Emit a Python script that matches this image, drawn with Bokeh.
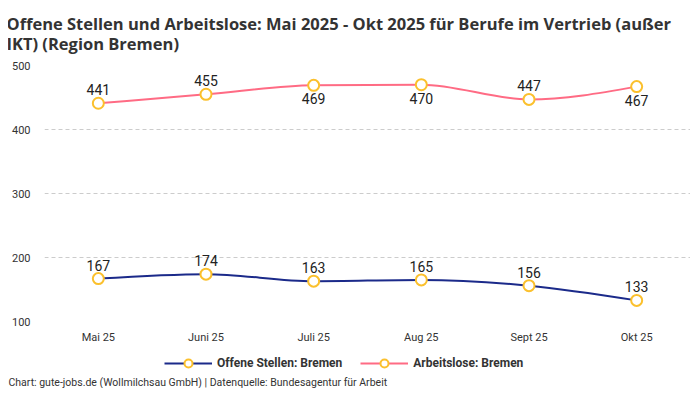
from bokeh.plotting import figure
from bokeh.layouts import column
from bokeh.models import (ColumnDataSource, FactorRange, Range1d, Legend, LegendItem,
                          Title, FixedTicker)
from bokeh.core.properties import value
from bokeh.embed import file_html
from bokeh.resources import INLINE

months = ["Mai 25", "Juni 25", "Juli 25", "Aug 25", "Sept 25", "Okt 25"]
offene = [167, 174, 163, 165, 156, 133]
arbeitslose = [441, 455, 469, 470, 447, 467]
# where the value label sits: 1 above the point, -1 below
offene_side = [1, 1, 1, 1, 1, 1]
arbeitslose_side = [1, 1, -1, -1, 1, -1]
series_names = ["Offene Stellen: Bremen", "Arbeitslose: Bremen"]

FONT = "Roboto"
NAVY = "#1b2a8a"
PINK = "#ff6b84"
MARK = "#fbc02d"


def monotone_beziers(xs, ys):
    # monotone cubic (like d3 curveMonotoneX) -> bezier control points
    n = len(xs)
    h = [xs[i + 1] - xs[i] for i in range(n - 1)]
    s = [(ys[i + 1] - ys[i]) / h[i] for i in range(n - 1)]
    t = [0.0] * n
    for i in range(1, n - 1):
        p = (s[i - 1] * h[i] + s[i] * h[i - 1]) / (h[i - 1] + h[i])
        sg = (1 if s[i - 1] > 0 else -1 if s[i - 1] < 0 else 0) + (1 if s[i] > 0 else -1 if s[i] < 0 else 0)
        t[i] = sg * min(abs(s[i - 1]), abs(s[i]), 0.5 * abs(p))
    t[0] = (3 * s[0] - t[1]) / 2
    t[-1] = (3 * s[-1] - t[-2]) / 2
    seg = dict(x0=[], y0=[], x1=[], y1=[], cx0=[], cy0=[], cx1=[], cy1=[])
    for i in range(n - 1):
        seg["x0"].append(xs[i]); seg["y0"].append(ys[i])
        seg["x1"].append(xs[i + 1]); seg["y1"].append(ys[i + 1])
        seg["cx0"].append(xs[i] + h[i] / 3); seg["cy0"].append(ys[i] + h[i] * t[i] / 3)
        seg["cx1"].append(xs[i + 1] - h[i] / 3); seg["cy1"].append(ys[i + 1] - h[i] * t[i + 1] / 3)
    return seg


p = figure(frame_width=646, frame_height=256, x_range=FactorRange(*months, range_padding=0),
           y_range=Range1d(100, 500), output_backend="svg", toolbar_location=None,
           min_border=0, min_border_top=73, min_border_bottom=24, margin=(-8, 0, 0, 8))
p.outline_line_color = None

p.title.text = ("Offene Stellen und Arbeitslose: Mai 2025 - Okt 2025 für Berufe im Vertrieb (außer\n"
                "IKT) (Region Bremen)")
p.title.text_font = "Open Sans"
p.title.text_font_size = "16.5px"
p.title.text_font_style = "bold"
p.title.text_line_height = 0.87
p.title.text_color = "#333333"
p.title.standoff = 21
p.title.offset = -38

p.xgrid.grid_line_color = None
p.ygrid.grid_line_color = "#cccccc"
p.ygrid.grid_line_dash = "4 3"
p.yaxis.ticker = FixedTicker(ticks=[100, 200, 300, 400, 500])
for ax in (p.xaxis, p.yaxis):
    ax.axis_line_color = None
    ax.major_tick_line_color = None
    ax.minor_tick_line_color = None
    ax.major_tick_out = 0
    ax.major_tick_in = 0
    ax.major_label_text_font = FONT
    ax.major_label_text_font_size = "11px"
    ax.major_label_text_color = "#333333"
p.yaxis.major_label_standoff = 14
p.xaxis.major_label_standoff = 9

xs = [i + 0.5 for i in range(len(months))]
for vals, sides, color in [(offene, offene_side, NAVY), (arbeitslose, arbeitslose_side, PINK)]:
    seg = ColumnDataSource(monotone_beziers(xs, vals))
    p.bezier(x0="x0", y0="y0", x1="x1", y1="y1", cx0="cx0", cy0="cy0",
             cx1="cx1", cy1="cy1", source=seg, line_color=color, line_width=2)
    src = ColumnDataSource(dict(m=months, v=vals, lab=[str(v) for v in vals],
                                yo=[-8 if s > 0 else 8 for s in sides],
                                base=["bottom" if s > 0 else "top" for s in sides]))
    p.scatter(x="m", y="v", source=src, size=11, fill_color="white",
              line_color=MARK, line_width=2)
    p.text(x="m", y="v", text="lab", source=src, y_offset="yo", text_baseline="base",
           text_align="center", text_font=value(FONT), text_font_size="14px",
           text_color="#222222")

# legend + source note in a strip under the chart
leg = figure(width=684, height=42, x_range=Range1d(0, 1), y_range=Range1d(0, 1),
             x_axis_location=None, y_axis_location=None,
             output_backend="svg", toolbar_location=None, min_border=0)
leg.grid.grid_line_color = None
leg.outline_line_color = None
nan = float("nan")
items = []
for name, color in zip(series_names, [NAVY, PINK]):
    ln = leg.line(x=[nan, nan], y=[nan, nan], line_color=color, line_width=2)
    mk = leg.scatter(x=[nan], y=[nan], size=11, fill_color="white", line_color=MARK, line_width=2)
    items.append(LegendItem(label=name, renderers=[ln, mk]))
legend = Legend(items=items, orientation="horizontal", location=(128, 0),
                label_text_font=FONT, label_text_font_size="12px", label_text_font_style="bold",
                label_text_color="#333333", border_line_color=None, background_fill_alpha=0,
                glyph_width=48, label_standoff=5, spacing=18, margin=0, padding=2)
leg.add_layout(legend, "center")
leg.add_layout(Title(text="Chart: gute-jobs.de (Wollmilchsau GmbH) | Datenquelle: Bundesagentur für Arbeit",
                     align="left", text_font=FONT, text_font_size="10.5px", text_font_style="normal",
                     text_color="#333333", standoff=0, offset=-28), "below")

page = column(p, leg, spacing=0)
open("out.html", "w").write(file_html(page, INLINE))
